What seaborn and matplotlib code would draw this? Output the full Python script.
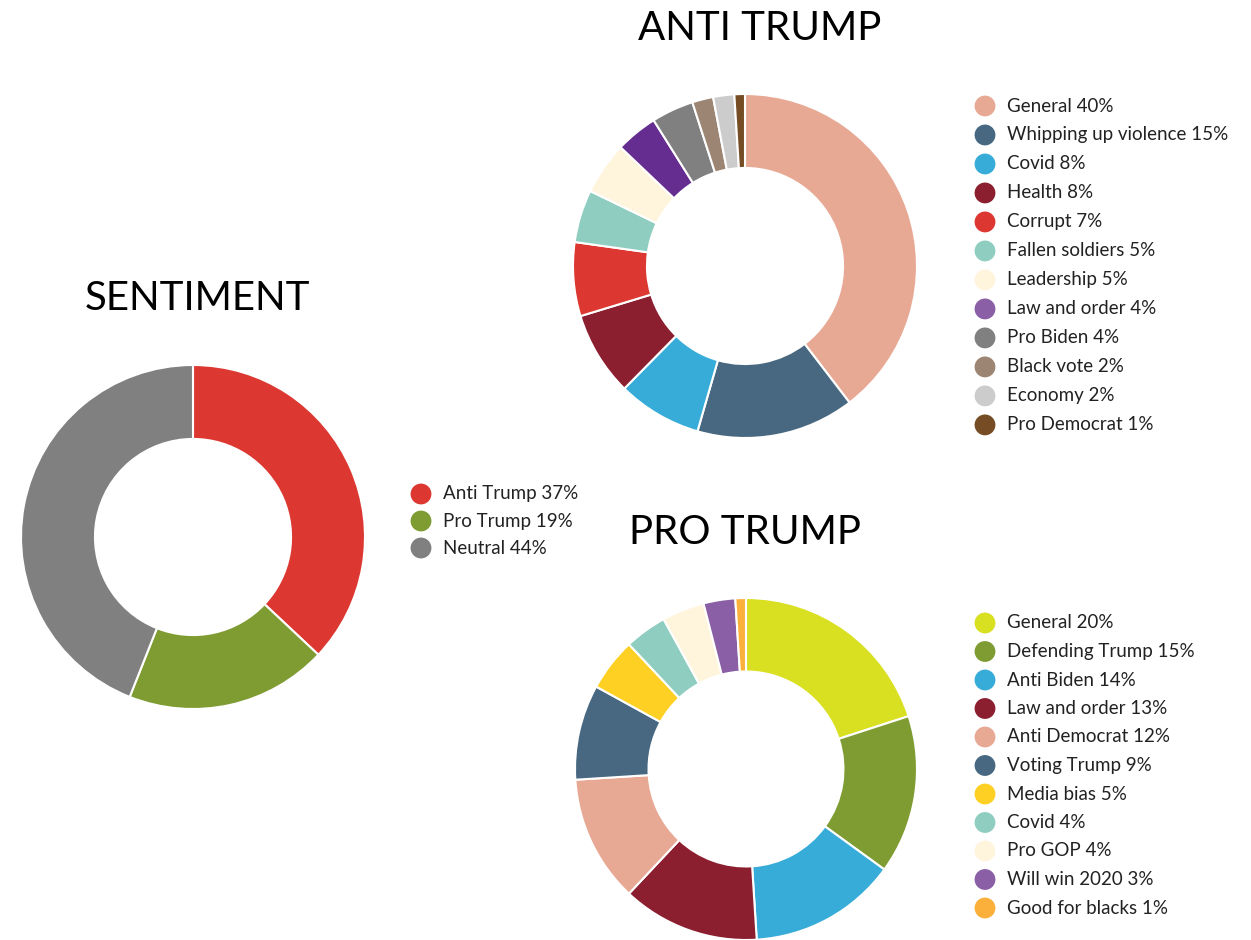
import matplotlib
matplotlib.use("Agg")
import matplotlib.pyplot as plt
import seaborn as sns

# ---------------- data ----------------
sent_labels = ["Anti Trump", "Pro Trump", "Neutral"]
sent_values = [37, 19, 44]
sent_colors = ["#dc3831", "#7f9c33", "#808080"]

anti_labels = ["General", "Whipping up violence", "Covid", "Health", "Corrupt",
               "Fallen soldiers", "Leadership", "Law and order", "Pro Biden",
               "Black vote", "Economy", "Pro Democrat"]
anti_values = [40, 15, 8, 8, 7, 5, 5, 4, 4, 2, 2, 1]
anti_colors = ["#e8a994", "#476880", "#38acd9", "#8b1e2f", "#dc3831", "#8fcdc0",
               "#fff4dc", "#662d91", "#808080", "#9c8572", "#cccccc", "#754c24"]
anti_legend_colors = ["#e8a994", "#476880", "#38acd9", "#8b1e2f", "#dc3831", "#8fcdc0",
                      "#fff4dc", "#8a5fa6", "#808080", "#9c8572", "#cccccc", "#754c24"]

pro_labels = ["General", "Defending Trump", "Anti Biden", "Law and order",
              "Anti Democrat", "Voting Trump", "Media bias", "Covid", "Pro GOP",
              "Will win 2020", "Good for blacks"]
pro_values = [20, 15, 14, 13, 12, 9, 5, 4, 4, 3, 1]
pro_colors = ["#d9e021", "#7f9c33", "#38acd9", "#8b1e2f", "#e8a994", "#476880",
              "#fdd023", "#8fcdc0", "#fff4dc", "#8a5fa6", "#fbb03b"]

# ---------------- style ----------------
sns.set_theme(style="white")
plt.rcParams["font.family"] = ["Lato", "DejaVu Sans"]

W, H = 1251, 940
fig = plt.figure(figsize=(W / 100, H / 100), dpi=100)
fig.patch.set_facecolor("white")


def donut(cx, cy, r, values, colors):
    ax = fig.add_axes([(cx - r) / W, (H - cy - r) / H, 2 * r / W, 2 * r / H])
    ax.pie(values, colors=colors, startangle=90, counterclock=False, radius=1,
           wedgeprops=dict(width=0.43, edgecolor="white", linewidth=1.5))
    ax.set_xlim(-1.0, 1.0)
    ax.set_ylim(-1.0, 1.0)
    ax.set_axis_off()
    return ax


donut(193, 537, 172, sent_values, sent_colors)
donut(745, 266, 172, anti_values, anti_colors)
donut(746, 769, 171, pro_values, pro_colors)

# overlay in pixel coords for titles & legends
ov = fig.add_axes([0, 0, 1, 1], zorder=5)
ov.set_xlim(0, W)
ov.set_ylim(H, 0)
ov.set_axis_off()
ov.patch.set_alpha(0)

title_kw = dict(fontsize=29, color="black", ha="center", va="center")
ov.text(197, 298, "SENTIMENT", **title_kw)
ov.text(760, 28, "ANTI TRUMP", **title_kw)
ov.text(745, 532, "PRO TRUMP", **title_kw)


def legend(x, y0, dy, labels, values, colors):
    for i, (lab, val, col) in enumerate(zip(labels, values, colors)):
        y = y0 + i * dy
        ov.scatter([x], [y], s=225, color=col, edgecolors="none", clip_on=False)
        ov.text(x + 22, y, f"{lab} {val}%", fontsize=13.5, color="#222222",
                ha="left", va="center")


legend(421, 494, 27, sent_labels, sent_values, sent_colors)
legend(985, 106, 28.99, anti_labels, anti_values, anti_legend_colors)
legend(985, 623, 28.5, pro_labels, pro_values, pro_colors)

fig.savefig("out.png", dpi=100, facecolor="white")
